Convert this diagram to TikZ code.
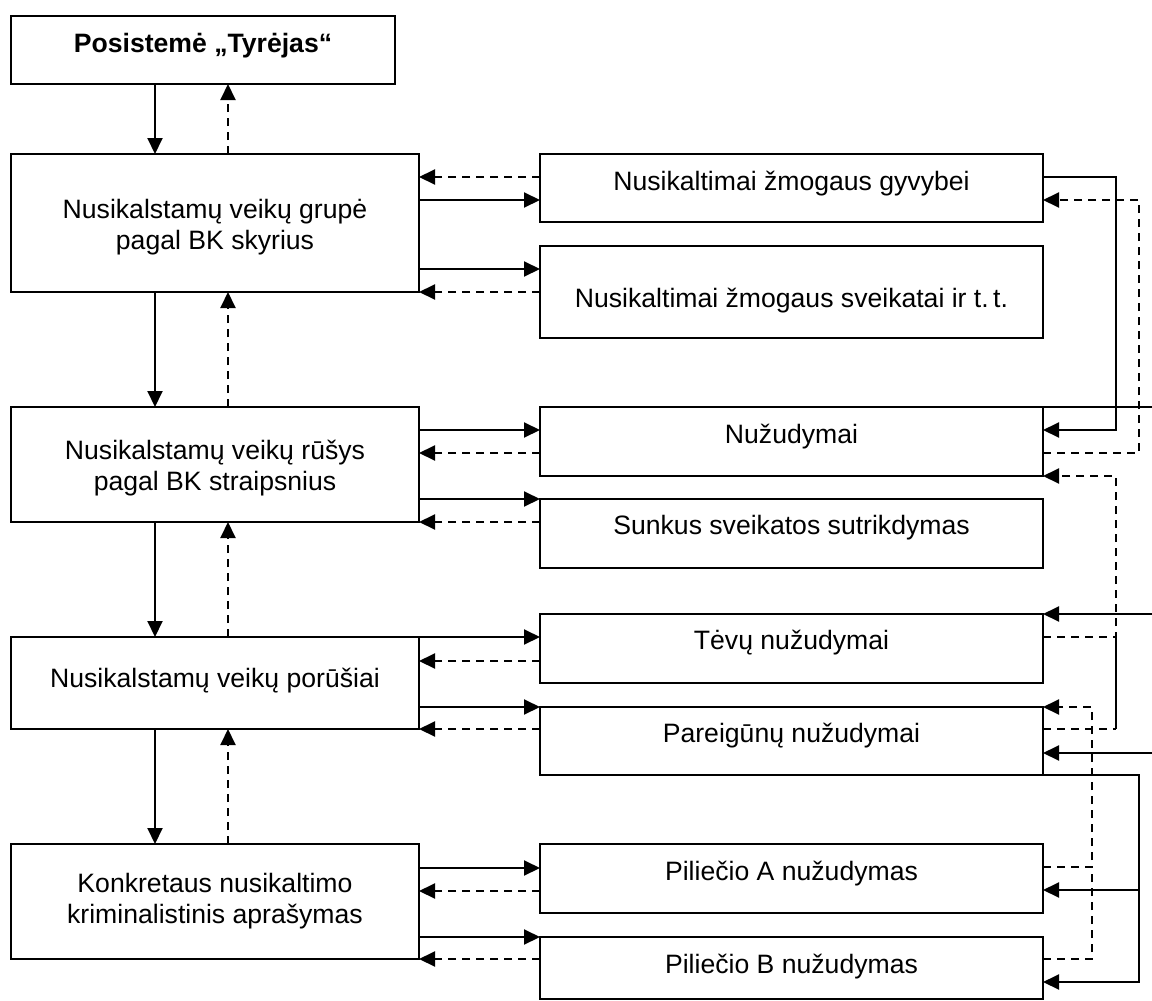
\documentclass[tikz,border=0pt]{standalone}
\usepackage{fontspec}
\setmainfont{Liberation Sans}
\usetikzlibrary{arrows.meta}
\begin{document}
\begin{tikzpicture}[x=0.5pt,y=-0.5pt,
  box/.style={draw,line width=1pt,inner sep=0pt,outer sep=0pt,rectangle},
  lbox/.style={box,minimum width=204pt},
  rbox/.style={box,minimum width=251.5pt},
  sol/.style={line width=1pt,-{Triangle[length=8pt,width=7.5pt]}},
  das/.style={sol,dash pattern=on 4pt off 3pt},
  lin/.style={line width=1pt},
  dlin/.style={lin,dash pattern=on 4pt off 3pt},
  txt/.style={font=\fontsize{13.3pt}{15.5pt}\selectfont,align=center,inner sep=0pt}]
\useasboundingbox (0,0) rectangle (1152,1001);

% boxes
\node[box,minimum width=192pt,minimum height=34pt] (T) at (203,50) {};
\node[lbox,minimum height=69pt]   (L1) at (215,223) {};
\node[lbox,minimum height=57.5pt] (L2) at (215,464.5) {};
\node[lbox,minimum height=46pt]   (L3) at (215,683) {};
\node[lbox,minimum height=57.5pt] (L4) at (215,901.5) {};

\node[rbox,minimum height=34pt]   (R1) at (791.5,188) {};
\node[rbox,minimum height=46pt]   (R2) at (791.5,292) {};
\node[rbox,minimum height=34.5pt] (R3) at (791.5,441.5) {};
\node[rbox,minimum height=34.5pt] (R4) at (791.5,533.5) {};
\node[rbox,minimum height=34.5pt] (R5) at (791.5,648.5) {};
\node[rbox,minimum height=34pt]   (R6) at (791.5,741) {};
\node[rbox,minimum height=34.5pt] (R7) at (791.5,878.5) {};
\node[rbox,minimum height=31pt]   (R8) at (791.5,968) {};

% texts
\node[txt,anchor=base] (tT) at (203,52) {\textbf{Posistemė „Tyrėjas“}};
\node[txt] (tL1) at (215,227) {Nusikalstamų veikų grupė\\pagal BK skyrius};
\node[txt] (tL2) at (215,468) {Nusikalstamų veikų rūšys\\pagal BK straipsnius};
\node[txt] (tL3) at (215,681) {Nusikalstamų veikų porūšiai};
\node[txt] (tL4) at (215,901) {Konkretaus nusikaltimo\\kriminalistinis aprašymas};

\node[txt,anchor=base] (tR1) at (791.5,190) {Nusikaltimai žmogaus gyvybei};
\node[txt,anchor=base] (tR2) at (791.5,307) {Nusikaltimai žmogaus sveikatai ir t.\,t.};
\node[txt,anchor=base] (tR3) at (791.5,443) {Nužudymai};
\node[txt,anchor=base] (tR4) at (791.5,534) {Sunkus sveikatos sutrikdymas};
\node[txt,anchor=base] (tR5) at (791.5,649) {Tėvų nužudymai};
\node[txt,anchor=base] (tR6) at (791.5,742) {Pareigūnų nužudymai};
\node[txt,anchor=base] (tR7) at (791.5,880) {Piliečio A nužudymas};
\node[txt,anchor=base] (tR8) at (791.5,973) {Piliečio B nužudymas};

% vertical connectors on the left
\draw[sol] (T.south -| 155,0) -- (L1.north -| 155,0);
\draw[das] (L1.north -| 228,0) -- (T.south -| 228,0);
\draw[sol] (L1.south -| 155,0) -- (L2.north -| 155,0);
\draw[das] (L2.north -| 228,0) -- (L1.south -| 228,0);
\draw[sol] (L2.south -| 155,0) -- (L3.north -| 155,0);
\draw[das] (L3.north -| 228,0) -- (L2.south -| 228,0);
\draw[sol] (L3.south -| 155,0) -- (L4.north -| 155,0);
\draw[das] (L4.north -| 228,0) -- (L3.south -| 228,0);

% left-right connectors
\draw[das] (R1.west |- 0,177) -- (L1.east |- 0,177);
\draw[sol] (L1.east |- 0,200) -- (R1.west |- 0,200);
\draw[sol] (L1.east |- 0,269) -- (R2.west |- 0,269);
\draw[das] (R2.west |- 0,292) -- (L1.east |- 0,292);

\draw[sol] (L2.east |- 0,430) -- (R3.west |- 0,430);
\draw[das] (R3.west |- 0,453) -- (L2.east |- 0,453);
\draw[sol] (L2.east |- 0,499) -- (R4.west |- 0,499);
\draw[das] (R4.west |- 0,522) -- (L2.east |- 0,522);

\draw[sol] (L3.east |- 0,637) -- (R5.west |- 0,637);
\draw[das] (R5.west |- 0,661) -- (L3.east |- 0,661);
\draw[sol] (L3.east |- 0,707) -- (R6.west |- 0,707);
\draw[das] (R6.west |- 0,729) -- (L3.east |- 0,729);

\draw[sol] (L4.east |- 0,868) -- (R7.west |- 0,868);
\draw[das] (R7.west |- 0,891) -- (L4.east |- 0,891);
\draw[sol] (L4.east |- 0,937) -- (R8.west |- 0,937);
\draw[das] (R8.west |- 0,959) -- (L4.east |- 0,959);

% right-side connectors
\coordinate (e1) at (1152,407);
\coordinate (e2) at (1152,614);
\coordinate (e3) at (1152,753);

\draw[sol] (R1.east |- 0,177) -| (1116,430) -- (R3.east |- 0,430);
\draw[das] (R3.east |- 0,453) -| (1139,200) -- (R1.east |- 0,200);
\draw[lin] (R3.north east) -- (e1);
\draw[das] (R5.east |- 0,637) -| (1116,476) -- (R3.south east);
\draw[dlin] (R6.east |- 0,729) -- (1116,729);
\draw[lin] (1116,729) -- (1116,637);
\draw[sol] (e2) -- (R5.north east);
\draw[sol] (e3) -- (R6.east |- 0,753);
\draw[das] (R7.east |- 0,867) -| (1092,707) -- (R6.north east);
\draw[dlin] (R8.east |- 0,959) -| (1092,867);
\draw[sol] (R6.south east) -| (1139,982) -- (R8.east |- 0,982);
\draw[sol] (1139,890) -- (R7.east |- 0,890);
\end{tikzpicture}
\end{document}
